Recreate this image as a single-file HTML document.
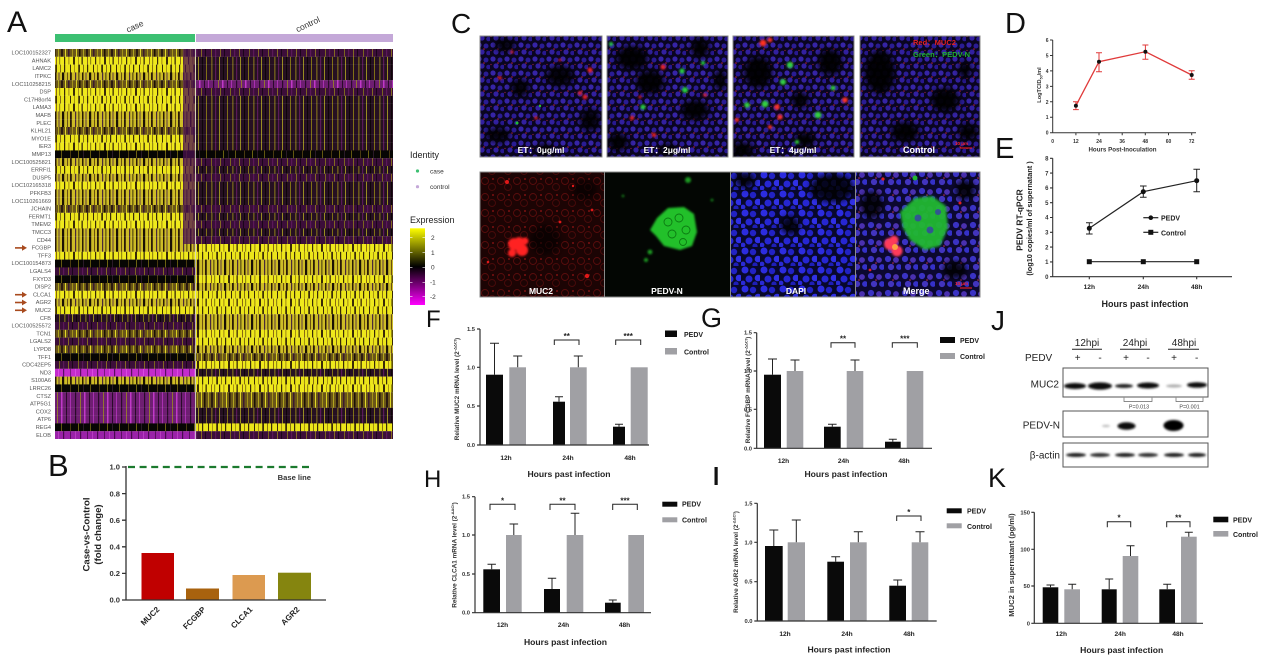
<!DOCTYPE html>
<html><head><meta charset="utf-8">
<style>
html,body{margin:0;padding:0;background:#fff;}
svg{display:block;}
text{font-family:"Liberation Sans",Arial,sans-serif;}
.g{font-size:5.6px;fill:#555;}
.lt{fill:#111;}
.tk{font-size:5.8px;font-weight:bold;fill:#333;}
.ct{font-size:6.6px;font-weight:bold;fill:#222;}
.ax{font-size:8.6px;font-weight:bold;fill:#222;}
.lg{font-size:7px;font-weight:bold;fill:#222;}
.yl{font-size:6.4px;font-weight:bold;fill:#333;}
.wl{font-size:8.5px;font-weight:bold;fill:#fff;}
.bl{font-size:10px;fill:#222;}
.st{font-size:8px;font-weight:bold;fill:#222;}
</style></head><body>
<svg width="1269" height="658" viewBox="0 0 1269 658" xmlns="http://www.w3.org/2000/svg">
<defs>
<pattern id="pY1" width="31" height="8" patternUnits="userSpaceOnUse"><rect width="31" height="8" fill="#efe91c"/><g fill="#3a2a08"><rect x="2" width="1.2" height="8"/><rect x="11" width="2" height="8"/><rect x="19.5" width="1.3" height="8"/><rect x="28.5" width="0.6" height="8"/></g><g fill="#8a6a12"><rect x="6.5" width="0.8" height="8"/><rect x="16" width="0.7" height="8"/><rect x="25" width="1" height="8"/></g></pattern>
<pattern id="pY2" width="23" height="8" patternUnits="userSpaceOnUse"><rect width="23" height="8" fill="#ebe51a"/><rect x="1" width="1" height="8" fill="#3a2a08"/><rect x="5" width="0.7" height="8" fill="#8a7010"/><rect x="9.3" width="1.6" height="8" fill="#2a1a06"/><rect x="14" width="0.8" height="8" fill="#6a5010"/><rect x="18" width="1.2" height="8" fill="#3a2a08"/></pattern>
<pattern id="pYm" width="27" height="8" patternUnits="userSpaceOnUse"><rect width="27" height="8" fill="#cdbc26"/><rect x="1" width="1.5" height="8" fill="#2a1a06"/><rect x="4.5" width="1" height="8" fill="#5a3a40"/><rect x="8" width="2.2" height="8" fill="#1a1004"/><rect x="13" width="1" height="8" fill="#6a5010"/><rect x="16" width="1.8" height="8" fill="#2a1a06"/><rect x="21" width="1.2" height="8" fill="#4a2a3a"/><rect x="24.5" width="0.8" height="8" fill="#1a1004"/></pattern>
<pattern id="pM" width="25" height="8" patternUnits="userSpaceOnUse"><rect width="25" height="8" fill="#6a5618"/><rect x="1" width="1" height="8" fill="#d8d020"/><rect x="4" width="1.5" height="8" fill="#1a1006"/><rect x="8" width="0.8" height="8" fill="#c0b820"/><rect x="11" width="2" height="8" fill="#2a1a10"/><rect x="15" width="1" height="8" fill="#e0d828"/><rect x="18" width="1.5" height="8" fill="#3a1a30"/><rect x="22" width="0.8" height="8" fill="#b0a018"/></pattern>
<pattern id="pD" width="21" height="8" patternUnits="userSpaceOnUse"><rect width="21" height="8" fill="#261022"/><rect x="1.5" width="0.8" height="8" fill="#a89a18"/><rect x="5" width="1.2" height="8" fill="#5a1a58"/><rect x="9" width="0.7" height="8" fill="#c8c020"/><rect x="13" width="1" height="8" fill="#0e0608"/><rect x="17" width="0.9" height="8" fill="#8a7a14"/></pattern>
<pattern id="pP" width="19" height="8" patternUnits="userSpaceOnUse"><rect width="19" height="8" fill="#3c0e3a"/><rect x="2" width="0.8" height="8" fill="#8a7a18"/><rect x="6" width="1.2" height="8" fill="#5a1858"/><rect x="11" width="0.7" height="8" fill="#a09018"/><rect x="15" width="1" height="8" fill="#1a0618"/></pattern>
<pattern id="pPm" width="23" height="8" patternUnits="userSpaceOnUse"><rect width="23" height="8" fill="#6e1e72"/><rect x="1" width="1" height="8" fill="#a830b0"/><rect x="6" width="1.2" height="8" fill="#2a0a2a"/><rect x="11" width="0.8" height="8" fill="#9a8a20"/><rect x="15" width="1.5" height="8" fill="#c038c8"/><rect x="20" width="1" height="8" fill="#2a0a2a"/></pattern>
<pattern id="pMg" width="17" height="8" patternUnits="userSpaceOnUse"><rect width="17" height="8" fill="#c42ccc"/><rect x="2" width="1" height="8" fill="#7a1a80"/><rect x="7" width="0.8" height="8" fill="#e050e8"/><rect x="12" width="1.2" height="8" fill="#5a1060"/></pattern>
<pattern id="pMg2" width="17" height="8" patternUnits="userSpaceOnUse"><rect width="17" height="8" fill="#9a22a8"/><rect x="2" width="1" height="8" fill="#5a1060"/><rect x="7" width="0.8" height="8" fill="#c040c8"/><rect x="12" width="1.2" height="8" fill="#4a0a50"/></pattern>
<pattern id="pK" width="29" height="8" patternUnits="userSpaceOnUse"><rect width="29" height="8" fill="#070604"/><rect x="3" width="0.7" height="8" fill="#8a7a14"/><rect x="12" width="1" height="8" fill="#4a3a10"/><rect x="20" width="0.6" height="8" fill="#b0a018"/><rect x="25" width="1" height="8" fill="#2a1a28"/></pattern>

<pattern id="cP" width="14" height="14" patternUnits="userSpaceOnUse"><rect width="14" height="14" fill="#0a0520"/><circle cx="3" cy="3" r="2.6" fill="#3624a6"/><circle cx="10" cy="4" r="2.5" fill="#2a1c94"/><circle cx="6" cy="10" r="2.6" fill="#3220a0"/><circle cx="12.5" cy="11" r="2.3" fill="#281890"/><circle cx="8" cy="7" r="0.8" fill="#b02040"/><circle cx="1" cy="8.5" r="0.6" fill="#a02040"/></pattern>
<pattern id="cB" width="19" height="19" patternUnits="userSpaceOnUse"><rect width="19" height="19" fill="#08082c"/><circle cx="4" cy="4" r="3.5" fill="#2c2ce0"/><circle cx="12" cy="5" r="3.2" fill="#2222c4"/><circle cx="17" cy="12" r="3.3" fill="#3030e6"/><circle cx="8" cy="13" r="3.5" fill="#2626d2"/><circle cx="14" cy="18" r="2.6" fill="#1e1eb8"/><circle cx="2" cy="17" r="2.4" fill="#2a2ad6"/></pattern>
<pattern id="cR" width="16" height="16" patternUnits="userSpaceOnUse"><rect width="16" height="16" fill="#1c0404"/><circle cx="5" cy="5" r="3.5" fill="none" stroke="#5a0c0c" stroke-width="0.9"/><circle cx="12" cy="11" r="3.5" fill="none" stroke="#4a0a0a" stroke-width="0.9"/><circle cx="13" cy="3" r="1" fill="#7a1010"/></pattern>
<pattern id="cM" width="17" height="17" patternUnits="userSpaceOnUse"><rect width="17" height="17" fill="#0c0830"/><circle cx="4" cy="4" r="3.1" fill="#3a32c4"/><circle cx="12" cy="5" r="2.9" fill="#4a30b0"/><circle cx="15" cy="12" r="2.9" fill="#3430c8"/><circle cx="7" cy="12" r="3.1" fill="#4234be"/><circle cx="9" cy="8" r="0.8" fill="#c03050"/></pattern>
<filter id="bl" x="-50%" y="-50%" width="200%" height="200%"><feGaussianBlur stdDeviation="3"/></filter>
<filter id="bs" x="-50%" y="-50%" width="200%" height="200%"><feGaussianBlur stdDeviation="1"/></filter>
<filter id="bb" x="-50%" y="-50%" width="200%" height="200%"><feGaussianBlur stdDeviation="1.3"/></filter>
<linearGradient id="exg" x1="0" y1="0" x2="0" y2="1"><stop offset="0" stop-color="#ffff00"/><stop offset="0.5" stop-color="#000000"/><stop offset="1" stop-color="#ff00ff"/></linearGradient>
<clipPath id="k1"><rect x="480" y="36" width="122" height="121"/></clipPath>
<clipPath id="k2"><rect x="607" y="36" width="121" height="121"/></clipPath>
<clipPath id="k3"><rect x="733" y="36" width="121" height="121"/></clipPath>
<clipPath id="k4"><rect x="860" y="36" width="120" height="121"/></clipPath>
<clipPath id="q1"><rect x="480" y="172" width="124" height="125"/></clipPath>
<clipPath id="q2"><rect x="605" y="172" width="125" height="125"/></clipPath>
<clipPath id="q3"><rect x="731" y="172" width="124" height="125"/></clipPath>
<clipPath id="q4"><rect x="856" y="172" width="124" height="125"/></clipPath>
</defs>
<rect width="1269" height="658" fill="#fff"/>

<!-- ===== Panel A ===== -->
<text x="7" y="32" class="lt" font-size="30">A</text>
<rect x="55" y="34" width="140" height="8" fill="#3cc072"/>
<rect x="196" y="34" width="197" height="8" fill="#c4a8d8"/>
<text transform="translate(136,29) rotate(-25)" text-anchor="middle" font-size="8.5" fill="#333">case</text>
<text transform="translate(309,27) rotate(-25)" text-anchor="middle" font-size="8.5" fill="#333">control</text>

<g>
<rect x="55" y="49" width="140.5" height="7.9" fill="url(#pM)"/><rect x="196" y="49" width="197" height="7.9" fill="url(#pP)"/>
<rect x="55" y="56.8" width="140.5" height="7.9" fill="url(#pY1)"/><rect x="196" y="56.8" width="197" height="7.9" fill="url(#pD)"/>
<rect x="55" y="64.6" width="140.5" height="7.9" fill="url(#pY2)"/><rect x="196" y="64.6" width="197" height="7.9" fill="url(#pD)"/>
<rect x="55" y="72.4" width="140.5" height="7.9" fill="url(#pYm)"/><rect x="196" y="72.4" width="197" height="7.9" fill="url(#pD)"/>
<rect x="55" y="80.2" width="140.5" height="7.9" fill="url(#pM)"/><rect x="196" y="80.2" width="197" height="7.9" fill="url(#pPm)"/>
<rect x="55" y="88" width="140.5" height="7.9" fill="url(#pY1)"/><rect x="196" y="88" width="197" height="7.9" fill="url(#pP)"/>
<rect x="55" y="95.8" width="140.5" height="7.9" fill="url(#pY2)"/><rect x="196" y="95.8" width="197" height="7.9" fill="url(#pD)"/>
<rect x="55" y="103.6" width="140.5" height="7.9" fill="url(#pY1)"/><rect x="196" y="103.6" width="197" height="7.9" fill="url(#pD)"/>
<rect x="55" y="111.4" width="140.5" height="7.9" fill="url(#pYm)"/><rect x="196" y="111.4" width="197" height="7.9" fill="url(#pD)"/>
<rect x="55" y="119.2" width="140.5" height="7.9" fill="url(#pYm)"/><rect x="196" y="119.2" width="197" height="7.9" fill="url(#pD)"/>
<rect x="55" y="127" width="140.5" height="7.9" fill="url(#pM)"/><rect x="196" y="127" width="197" height="7.9" fill="url(#pD)"/>
<rect x="55" y="134.8" width="140.5" height="7.9" fill="url(#pY2)"/><rect x="196" y="134.8" width="197" height="7.9" fill="url(#pD)"/>
<rect x="55" y="142.6" width="140.5" height="7.9" fill="url(#pY1)"/><rect x="196" y="142.6" width="197" height="7.9" fill="url(#pD)"/>
<rect x="55" y="150.4" width="140.5" height="7.9" fill="url(#pK)"/><rect x="196" y="150.4" width="197" height="7.9" fill="url(#pK)"/>
<rect x="55" y="158.2" width="140.5" height="7.9" fill="url(#pYm)"/><rect x="196" y="158.2" width="197" height="7.9" fill="url(#pP)"/>
<rect x="55" y="166" width="140.5" height="7.9" fill="url(#pY2)"/><rect x="196" y="166" width="197" height="7.9" fill="url(#pD)"/>
<rect x="55" y="173.8" width="140.5" height="7.9" fill="url(#pYm)"/><rect x="196" y="173.8" width="197" height="7.9" fill="url(#pP)"/>
<rect x="55" y="181.6" width="140.5" height="7.9" fill="url(#pY1)"/><rect x="196" y="181.6" width="197" height="7.9" fill="url(#pD)"/>
<rect x="55" y="189.4" width="140.5" height="7.9" fill="url(#pYm)"/><rect x="196" y="189.4" width="197" height="7.9" fill="url(#pD)"/>
<rect x="55" y="197.2" width="140.5" height="7.9" fill="url(#pYm)"/><rect x="196" y="197.2" width="197" height="7.9" fill="url(#pD)"/>
<rect x="55" y="205" width="140.5" height="7.9" fill="url(#pM)"/><rect x="196" y="205" width="197" height="7.9" fill="url(#pP)"/>
<rect x="55" y="212.8" width="140.5" height="7.9" fill="url(#pY2)"/><rect x="196" y="212.8" width="197" height="7.9" fill="url(#pD)"/>
<rect x="55" y="220.6" width="140.5" height="7.9" fill="url(#pY1)"/><rect x="196" y="220.6" width="197" height="7.9" fill="url(#pP)"/>
<rect x="55" y="228.4" width="140.5" height="7.9" fill="url(#pYm)"/><rect x="196" y="228.4" width="197" height="7.9" fill="url(#pD)"/>
<rect x="55" y="236.2" width="140.5" height="7.9" fill="url(#pYm)"/><rect x="196" y="236.2" width="197" height="7.9" fill="url(#pP)"/>
<rect x="55" y="244" width="140.5" height="7.9" fill="url(#pYm)"/><rect x="196" y="244" width="197" height="7.9" fill="url(#pY1)"/>
<rect x="55" y="251.8" width="140.5" height="7.9" fill="url(#pY1)"/><rect x="196" y="251.8" width="197" height="7.9" fill="url(#pY2)"/>
<rect x="55" y="259.6" width="140.5" height="7.9" fill="url(#pK)"/><rect x="196" y="259.6" width="197" height="7.9" fill="url(#pYm)"/>
<rect x="55" y="267.4" width="140.5" height="7.9" fill="url(#pP)"/><rect x="196" y="267.4" width="197" height="7.9" fill="url(#pYm)"/>
<rect x="55" y="275.2" width="140.5" height="7.9" fill="url(#pK)"/><rect x="196" y="275.2" width="197" height="7.9" fill="url(#pY1)"/>
<rect x="55" y="283" width="140.5" height="7.9" fill="url(#pM)"/><rect x="196" y="283" width="197" height="7.9" fill="url(#pYm)"/>
<rect x="55" y="290.8" width="140.5" height="7.9" fill="url(#pY1)"/><rect x="196" y="290.8" width="197" height="7.9" fill="url(#pY2)"/>
<rect x="55" y="298.6" width="140.5" height="7.9" fill="url(#pYm)"/><rect x="196" y="298.6" width="197" height="7.9" fill="url(#pY1)"/>
<rect x="55" y="306.4" width="140.5" height="7.9" fill="url(#pY2)"/><rect x="196" y="306.4" width="197" height="7.9" fill="url(#pY2)"/>
<rect x="55" y="314.2" width="140.5" height="7.9" fill="url(#pD)"/><rect x="196" y="314.2" width="197" height="7.9" fill="url(#pYm)"/>
<rect x="55" y="322" width="140.5" height="7.9" fill="url(#pP)"/><rect x="196" y="322" width="197" height="7.9" fill="url(#pYm)"/>
<rect x="55" y="329.8" width="140.5" height="7.9" fill="url(#pM)"/><rect x="196" y="329.8" width="197" height="7.9" fill="url(#pY1)"/>
<rect x="55" y="337.6" width="140.5" height="7.9" fill="url(#pP)"/><rect x="196" y="337.6" width="197" height="7.9" fill="url(#pY2)"/>
<rect x="55" y="345.4" width="140.5" height="7.9" fill="url(#pM)"/><rect x="196" y="345.4" width="197" height="7.9" fill="url(#pYm)"/>
<rect x="55" y="353.2" width="140.5" height="7.9" fill="url(#pK)"/><rect x="196" y="353.2" width="197" height="7.9" fill="url(#pM)"/>
<rect x="55" y="361" width="140.5" height="7.9" fill="url(#pP)"/><rect x="196" y="361" width="197" height="7.9" fill="url(#pY1)"/>
<rect x="55" y="368.8" width="140.5" height="7.9" fill="url(#pMg)"/><rect x="196" y="368.8" width="197" height="7.9" fill="url(#pD)"/>
<rect x="55" y="376.6" width="140.5" height="7.9" fill="url(#pYm)"/><rect x="196" y="376.6" width="197" height="7.9" fill="url(#pY2)"/>
<rect x="55" y="384.4" width="140.5" height="7.9" fill="url(#pK)"/><rect x="196" y="384.4" width="197" height="7.9" fill="url(#pY1)"/>
<rect x="55" y="392.2" width="140.5" height="7.9" fill="url(#pPm)"/><rect x="196" y="392.2" width="197" height="7.9" fill="url(#pM)"/>
<rect x="55" y="400" width="140.5" height="7.9" fill="url(#pPm)"/><rect x="196" y="400" width="197" height="7.9" fill="url(#pM)"/>
<rect x="55" y="407.8" width="140.5" height="7.9" fill="url(#pPm)"/><rect x="196" y="407.8" width="197" height="7.9" fill="url(#pD)"/>
<rect x="55" y="415.6" width="140.5" height="7.9" fill="url(#pPm)"/><rect x="196" y="415.6" width="197" height="7.9" fill="url(#pD)"/>
<rect x="55" y="423.4" width="140.5" height="7.9" fill="url(#pK)"/><rect x="196" y="423.4" width="197" height="7.9" fill="url(#pY2)"/>
<rect x="55" y="431.2" width="140.5" height="7.8" fill="url(#pMg2)"/><rect x="196" y="431.2" width="197" height="7.8" fill="url(#pP)"/>
<rect x="183" y="49" width="12" height="195" fill="#4a1050" opacity="0.75"/>
<line x1="195.6" y1="49" x2="195.6" y2="439" stroke="#d8d8d8" stroke-width="0.8"/>
</g>

<g class="g" text-anchor="end">
<text x="51" y="54.6">LOC100152327</text><text x="51" y="62.4">AHNAK</text><text x="51" y="70.2">LAMC2</text><text x="51" y="78">ITPKC</text><text x="51" y="85.8">LOC110258215</text><text x="51" y="93.6">DSP</text><text x="51" y="101.4">C17H8orf4</text><text x="51" y="109.2">LAMA3</text><text x="51" y="117">MAFB</text><text x="51" y="124.8">PLEC</text><text x="51" y="132.6">KLHL21</text><text x="51" y="140.4">MYO1E</text><text x="51" y="148.2">IER3</text><text x="51" y="156">MMP13</text><text x="51" y="163.8">LOC100525821</text><text x="51" y="171.6">ERRFI1</text><text x="51" y="179.4">DUSP5</text><text x="51" y="187.2">LOC102165318</text><text x="51" y="195">PFKFB3</text><text x="51" y="202.8">LOC110261669</text><text x="51" y="210.6">JCHAIN</text><text x="51" y="218.4">FERMT1</text><text x="51" y="226.2">TMEM2</text><text x="51" y="234">TMCC3</text><text x="51" y="241.8">CD44</text><text x="51" y="249.6">FCGBP</text><text x="51" y="257.4">TFF3</text><text x="51" y="265.2">LOC100154873</text><text x="51" y="273">LGALS4</text><text x="51" y="280.8">FXYD3</text><text x="51" y="288.6">DISP2</text><text x="51" y="296.4">CLCA1</text><text x="51" y="304.2">AGR2</text><text x="51" y="312">MUC2</text><text x="51" y="319.8">CFB</text><text x="51" y="327.6">LOC100525572</text><text x="51" y="335.4">TCN1</text><text x="51" y="343.2">LGALS2</text><text x="51" y="351">LYPD8</text><text x="51" y="358.8">TFF1</text><text x="51" y="366.6">CDC42EP5</text><text x="51" y="374.4">ND3</text><text x="51" y="382.2">S100A6</text><text x="51" y="390">LRRC26</text><text x="51" y="397.8">CTSZ</text><text x="51" y="405.6">ATP5G1</text><text x="51" y="413.4">COX2</text><text x="51" y="421.2">ATP6</text><text x="51" y="429">REG4</text><text x="51" y="436.8">ELOB</text>
</g>
<g fill="#a84a1e" stroke="#a84a1e">
<line x1="15" y1="247.9" x2="23" y2="247.9" stroke-width="1.6"/><path d="M22,245 L27,247.9 L22,250.8 Z" stroke="none"/>
<line x1="15" y1="294.7" x2="23" y2="294.7" stroke-width="1.6"/><path d="M22,291.8 L27,294.7 L22,297.6 Z" stroke="none"/>
<line x1="15" y1="302.5" x2="23" y2="302.5" stroke-width="1.6"/><path d="M22,299.6 L27,302.5 L22,305.4 Z" stroke="none"/>
<line x1="15" y1="310.3" x2="23" y2="310.3" stroke-width="1.6"/><path d="M22,307.4 L27,310.3 L22,313.2 Z" stroke="none"/>
</g>

<!-- legends -->
<text x="410" y="158" font-size="9" fill="#222">Identity</text>
<circle cx="417.5" cy="171" r="1.6" fill="#3cc072"/><text x="430" y="173.5" font-size="6.5" fill="#333">case</text>
<circle cx="417.5" cy="186.7" r="1.6" fill="#c4a8d8"/><text x="430" y="189" font-size="6.5" fill="#333">control</text>
<text x="410" y="223" font-size="9" fill="#222">Expression</text>
<rect x="410" y="228.3" width="15" height="76.7" fill="url(#exg)"/>
<g stroke="#fff" stroke-width="0.6"><line x1="410" y1="237.7" x2="412.5" y2="237.7"/><line x1="410" y1="252.7" x2="412.5" y2="252.7"/><line x1="410" y1="267.3" x2="412.5" y2="267.3"/><line x1="410" y1="282.3" x2="412.5" y2="282.3"/><line x1="410" y1="296.7" x2="412.5" y2="296.7"/><line x1="422.5" y1="237.7" x2="425" y2="237.7"/><line x1="422.5" y1="252.7" x2="425" y2="252.7"/><line x1="422.5" y1="267.3" x2="425" y2="267.3"/><line x1="422.5" y1="282.3" x2="425" y2="282.3"/><line x1="422.5" y1="296.7" x2="425" y2="296.7"/></g>
<g font-size="6.5" fill="#333"><text x="431" y="240">2</text><text x="431" y="255">1</text><text x="431" y="269.6">0</text><text x="430" y="284.6">-1</text><text x="430" y="299">-2</text></g>

<!-- ===== Panel B ===== -->
<text x="48" y="476" class="lt" font-size="31">B</text>
<line x1="128" y1="467" x2="310" y2="467" stroke="#1b7a2e" stroke-width="2.2" stroke-dasharray="7,4.6"/>
<text x="311" y="480" text-anchor="end" font-size="7.6" font-weight="bold" fill="#333">Base line</text>
<rect x="141.5" y="553" width="32.5" height="47" fill="#c00000"/>
<rect x="186" y="588.5" width="33" height="11.5" fill="#a8620e"/>
<rect x="232.5" y="575" width="32.5" height="25" fill="#dc9a50"/>
<rect x="278" y="572.7" width="33" height="27.3" fill="#85850f"/>
<g stroke="#333" stroke-width="1.3" fill="none"><path d="M126,466 V600 M124,600 H326 M122,467H126 M122,493.6H126 M122,520.2H126 M122,546.8H126 M122,573.4H126 M122,600H126"/></g>
<g font-size="7.6" font-weight="bold" fill="#333" text-anchor="end"><text x="120" y="469.7">1.0</text><text x="120" y="496.3">0.8</text><text x="120" y="522.9">0.6</text><text x="120" y="549.5">0.4</text><text x="120" y="576.1">0.2</text><text x="120" y="602.7">0.0</text></g>
<text transform="translate(89.5,534.5) rotate(-90)" text-anchor="middle" font-size="9.6" font-weight="bold" fill="#222">Case-vs-Control</text>
<text transform="translate(101,534.5) rotate(-90)" text-anchor="middle" font-size="9.6" font-weight="bold" fill="#222">(fold change)</text>
<g font-size="8" font-weight="bold" fill="#222" text-anchor="end">
<text transform="translate(160,610) rotate(-45)">MUC2</text>
<text transform="translate(206,610) rotate(-45)">FCGBP</text>
<text transform="translate(253,610) rotate(-45)">CLCA1</text>
<text transform="translate(300,610) rotate(-45)">AGR2</text>
</g>

<!-- ===== Panel C ===== -->
<text x="451" y="33" class="lt" font-size="28">C</text>
<g clip-path="url(#k1)">
<rect x="480" y="36" width="122" height="121" fill="url(#cP)"/>
<g filter="url(#bl)" fill="#000" opacity="0.9"><ellipse cx="560" cy="76" rx="14" ry="10"/><ellipse cx="520" cy="88" rx="9" ry="9"/><ellipse cx="498" cy="135" rx="12" ry="7"/><ellipse cx="590" cy="120" rx="10" ry="11"/><ellipse cx="545" cy="150" rx="10" ry="6"/><ellipse cx="505" cy="45" rx="10" ry="6"/></g>
<g fill="#e82020" filter="url(#bs)"><circle cx="590" cy="70" r="2.6"/><circle cx="585" cy="97" r="2.4"/><circle cx="580" cy="93" r="2"/><circle cx="500" cy="78" r="1.8"/><circle cx="536" cy="118" r="1.6"/><circle cx="560" cy="60" r="1.4"/><circle cx="512" cy="52" r="1.5"/></g>
<g fill="#20c030"><circle cx="517" cy="123" r="1.5"/><circle cx="540" cy="106" r="1.2"/></g>
</g>
<g clip-path="url(#k2)">
<rect x="607" y="36" width="121" height="121" fill="url(#cP)"/>
<g filter="url(#bl)" fill="#000" opacity="0.95"><ellipse cx="632" cy="58" rx="16" ry="12"/><ellipse cx="650" cy="82" rx="14" ry="12"/><ellipse cx="695" cy="110" rx="14" ry="10"/><ellipse cx="618" cy="142" rx="10" ry="9"/><ellipse cx="700" cy="48" rx="9" ry="10"/><ellipse cx="668" cy="150" rx="9" ry="6"/><ellipse cx="720" cy="80" rx="6" ry="10"/></g>
<g fill="#e82020" filter="url(#bs)"><circle cx="663" cy="67" r="2.6"/><circle cx="632" cy="118" r="2.2"/><circle cx="654" cy="135" r="2.2"/><circle cx="640" cy="97" r="1.5"/><circle cx="705" cy="95" r="1.8"/></g>
<g fill="#28d040" filter="url(#bs)"><circle cx="682" cy="71" r="2.6"/><circle cx="703" cy="63" r="2"/><circle cx="685" cy="90" r="3"/><circle cx="643" cy="107" r="2.6"/><circle cx="611" cy="44" r="2"/></g>
</g>
<g clip-path="url(#k3)">
<rect x="733" y="36" width="121" height="121" fill="url(#cP)"/>
<g filter="url(#bl)" fill="#000" opacity="0.95"><ellipse cx="758" cy="72" rx="14" ry="16"/><ellipse cx="830" cy="62" rx="12" ry="13"/><ellipse cx="742" cy="150" rx="12" ry="8"/><ellipse cx="805" cy="140" rx="10" ry="8"/><ellipse cx="800" cy="100" rx="8" ry="8"/></g>
<g fill="#30d040" filter="url(#bs)"><circle cx="790" cy="65" r="3.2"/><circle cx="783" cy="82" r="3"/><circle cx="747" cy="105" r="2.8"/><circle cx="765" cy="104" r="3.4"/><circle cx="818" cy="115" r="3.4"/><circle cx="833" cy="88" r="2.4"/><circle cx="797" cy="142" r="2"/></g>
<g fill="#ff3020" filter="url(#bs)"><circle cx="763" cy="43" r="3.4"/><circle cx="770" cy="40" r="2.4"/><circle cx="777" cy="107" r="2.8"/><circle cx="780" cy="117" r="2.6"/><circle cx="845" cy="100" r="2.8"/><circle cx="770" cy="127" r="2"/><circle cx="737" cy="120" r="2"/></g>
</g>
<g clip-path="url(#k4)">
<rect x="860" y="36" width="120" height="121" fill="url(#cP)"/>
<g filter="url(#bl)" fill="#000" opacity="0.95"><ellipse cx="880" cy="72" rx="15" ry="22"/><ellipse cx="945" cy="100" rx="14" ry="12"/><ellipse cx="905" cy="132" rx="14" ry="10"/><ellipse cx="968" cy="132" rx="10" ry="8"/><ellipse cx="965" cy="70" rx="6" ry="8"/></g>
</g>
<g fill="none" stroke="#8a8a8a" stroke-width="1"><rect x="480" y="36" width="122" height="121"/><rect x="607" y="36" width="121" height="121"/><rect x="733" y="36" width="121" height="121"/><rect x="860" y="36" width="120" height="121"/></g>
<g class="wl" text-anchor="middle"><text x="541" y="153">ET：0μg/ml</text><text x="667" y="153">ET：2μg/ml</text><text x="793" y="153">ET：4μg/ml</text></g>
<text x="903" y="153" font-size="9" font-weight="bold" fill="#fff">Control</text>
<text x="913" y="45" font-size="7.5" font-weight="bold" fill="#e02020">Red：MUC2</text>
<text x="913" y="57" font-size="7.5" font-weight="bold" fill="#20b030">Green：PEDV-N</text>
<text x="955" y="145" font-size="4.5" font-weight="bold" fill="#ff2020">10 μm</text>
<line x1="960" y1="148" x2="972" y2="148" stroke="#ff2020" stroke-width="1"/>

<!-- bottom row -->
<g clip-path="url(#q1)">
<rect x="480" y="172" width="124" height="125" fill="url(#cR)"/>
<g filter="url(#bl)" fill="#000" opacity="0.6"><ellipse cx="545" cy="240" rx="15" ry="15"/><ellipse cx="585" cy="190" rx="12" ry="10"/></g>
<g fill="#ff2020" filter="url(#bs)"><circle cx="514" cy="244" r="6"/><circle cx="522" cy="250" r="6"/><circle cx="519" cy="242" r="5"/><circle cx="512" cy="253" r="4"/><circle cx="525" cy="241" r="3.5"/></g>
<g fill="#e01818"><circle cx="507" cy="182" r="2"/><circle cx="587" cy="276" r="2.2"/><circle cx="560" cy="222" r="1.4"/><circle cx="592" cy="210" r="1.4"/><circle cx="488" cy="262" r="1.3"/><circle cx="573" cy="186" r="1.2"/></g>
</g>
<g clip-path="url(#q2)">
<rect x="605" y="172" width="125" height="125" fill="#030603"/>
<path d="M657,218 L668,208 L684,207 L694,214 L697,232 L692,246 L680,250 L664,246 L656,236 L650,230 Z" fill="#22c02a" filter="url(#bs)"/>
<g fill="none" stroke="#0c7a12" stroke-width="0.9"><circle cx="668" cy="222" r="4"/><circle cx="679" cy="218" r="4"/><circle cx="686" cy="230" r="4"/><circle cx="672" cy="234" r="4"/><circle cx="683" cy="242" r="3.5"/></g>
<g fill="#1a9a20" filter="url(#bs)"><circle cx="688" cy="180" r="3"/><circle cx="650" cy="252" r="2.4"/><circle cx="646" cy="260" r="2"/><circle cx="623" cy="196" r="1.2"/><circle cx="712" cy="200" r="1.3"/></g>
</g>
<g clip-path="url(#q3)">
<rect x="731" y="172" width="124" height="125" fill="url(#cB)"/>
<g filter="url(#bl)" fill="#000" opacity="0.85"><ellipse cx="832" cy="188" rx="22" ry="14"/><ellipse cx="790" cy="225" rx="10" ry="9"/><ellipse cx="745" cy="180" rx="10" ry="8"/></g>
</g>
<g clip-path="url(#q4)">
<rect x="856" y="172" width="124" height="125" fill="url(#cM)"/>
<g filter="url(#bl)" fill="#000" opacity="0.85"><ellipse cx="872" cy="205" rx="11" ry="14"/><ellipse cx="955" cy="270" rx="12" ry="9"/><ellipse cx="965" cy="190" rx="10" ry="10"/></g>
<path d="M900,212 L915,198 L932,196 L946,206 L948,228 L940,246 L925,250 L910,240 L903,228 Z" fill="#22b830" filter="url(#bb)" opacity="0.95"/>
<g fill="#3a30b8" opacity="0.7"><circle cx="918" cy="218" r="3.5"/><circle cx="930" cy="230" r="3.5"/><circle cx="938" cy="212" r="3"/></g>
<circle cx="915" cy="178" r="2.5" fill="#22b830"/>
<g fill="#ff3a5a" filter="url(#bs)"><circle cx="890" cy="244" r="6"/><circle cx="897" cy="251" r="5.5"/><circle cx="894" cy="240" r="4.5"/></g>
<circle cx="895" cy="247" r="3" fill="#ffa040"/>
<g fill="#e02020"><circle cx="883" cy="179" r="1.6"/><circle cx="960" cy="203" r="1.5"/><circle cx="870" cy="270" r="1.4"/></g>
</g>
<g fill="none" stroke="#8a8a8a" stroke-width="1"><rect x="480" y="172" width="500" height="125"/><line x1="604.5" y1="172" x2="604.5" y2="297"/><line x1="730.5" y1="172" x2="730.5" y2="297"/><line x1="855.5" y1="172" x2="855.5" y2="297"/></g>
<g class="wl" text-anchor="middle"><text x="541" y="294">MUC2</text><text x="667" y="294">PEDV-N</text><text x="796" y="294">DAPI</text></g>
<text x="903" y="294" font-size="9" font-weight="bold" fill="#fff">Merge</text>
<text x="955" y="285" font-size="4.5" font-weight="bold" fill="#ff2020">10 μm</text>
<line x1="960" y1="288" x2="972" y2="288" stroke="#ff2020" stroke-width="1"/>

<!-- ===== Panel D ===== -->
<text x="1005" y="33" class="lt" font-size="29">D</text>
<g stroke="#333" stroke-width="1" fill="none"><path d="M1052.7,40 V132.7 M1052.7,132.7 H1196 M1050,40H1052.7 M1050,55.45H1052.7 M1050,70.9H1052.7 M1050,86.35H1052.7 M1050,101.8H1052.7 M1050,117.25H1052.7 M1050,132.7H1052.7 M1075.9,132.7v2.5 M1099,132.7v2.5 M1122.2,132.7v2.5 M1145.3,132.7v2.5 M1168.5,132.7v2.5 M1191.7,132.7v2.5"/></g>
<g font-size="5" font-weight="bold" fill="#333" text-anchor="end"><text x="1048.5" y="42">6</text><text x="1048.5" y="57.4">5</text><text x="1048.5" y="72.9">4</text><text x="1048.5" y="88.3">3</text><text x="1048.5" y="103.8">2</text><text x="1048.5" y="119.2">1</text><text x="1048.5" y="134.7">0</text></g>
<g font-size="5" font-weight="bold" fill="#333" text-anchor="middle"><text x="1052.7" y="143">0</text><text x="1075.9" y="143">12</text><text x="1099" y="143">24</text><text x="1122.2" y="143">36</text><text x="1145.3" y="143">48</text><text x="1168.5" y="143">60</text><text x="1191.7" y="143">72</text></g>
<text x="1122.5" y="151.5" text-anchor="middle" font-size="6.2" font-weight="bold" fill="#333">Hours Post-Inoculation</text>
<text transform="translate(1041,85) rotate(-90)" text-anchor="middle" font-size="5.6" font-weight="bold" fill="#333">LogTCID<tspan font-size="3.6" dy="1.5">50</tspan><tspan dy="-1.5">/ml</tspan></text>
<polyline points="1075.9,105.7 1099,61.7 1145.4,51.7 1191.7,75" fill="none" stroke="#e03a3a" stroke-width="1.3"/>
<g stroke="#e03a3a" stroke-width="1" fill="none"><path d="M1075.9,101.8V109.6 M1073,101.8h5.8 M1073,109.6h5.8 M1099,52.7V71.7 M1096,52.7h6 M1096,71.7h6 M1145.4,45V59.3 M1142.4,45h6 M1142.4,59.3h6 M1191.7,70.7V79.3 M1188.7,70.7h6 M1188.7,79.3h6"/></g>
<g fill="#111"><circle cx="1075.9" cy="105.7" r="2"/><circle cx="1099" cy="61.7" r="2"/><circle cx="1145.4" cy="51.7" r="2"/><circle cx="1191.7" cy="75" r="2"/></g>

<!-- ===== Panel E ===== -->
<text x="995" y="158" class="lt" font-size="29">E</text>
<g stroke="#333" stroke-width="1.1" fill="none"><path d="M1052.7,158.3 V276.7 M1052.7,276.7 H1232 M1050,158.3h2.7 M1050,173.1h2.7 M1050,187.9h2.7 M1050,202.7h2.7 M1050,217.5h2.7 M1050,232.3h2.7 M1050,247.1h2.7 M1050,261.9h2.7 M1050,276.7h2.7 M1089.3,276.7v2.5 M1143.3,276.7v2.5 M1196.7,276.7v2.5"/></g>
<g font-size="6" font-weight="bold" fill="#333" text-anchor="end"><text x="1048.5" y="160.5">8</text><text x="1048.5" y="175.3">7</text><text x="1048.5" y="190.1">6</text><text x="1048.5" y="204.9">5</text><text x="1048.5" y="219.7">4</text><text x="1048.5" y="234.5">3</text><text x="1048.5" y="249.3">2</text><text x="1048.5" y="264.1">1</text><text x="1048.5" y="278.9">0</text></g>
<g class="ct" text-anchor="middle"><text x="1089.3" y="289">12h</text><text x="1143.3" y="289">24h</text><text x="1196.7" y="289">48h</text></g>
<text x="1145" y="307" text-anchor="middle" font-size="9" font-weight="bold" fill="#222">Hours past infection</text>
<text transform="translate(1022.5,220) rotate(-90)" text-anchor="middle" font-size="8.4" font-weight="bold" fill="#222">PEDV RT-qPCR</text>
<text transform="translate(1032,218.5) rotate(-90)" text-anchor="middle" font-size="7.3" font-weight="bold" fill="#222">(log10 copies/ml of supernatant )</text>
<polyline points="1089.3,228.3 1143.3,191.7 1196.7,180.7" fill="none" stroke="#222" stroke-width="1.2"/>
<line x1="1089.3" y1="261.7" x2="1196.7" y2="261.7" stroke="#222" stroke-width="1.2"/>
<g stroke="#222" stroke-width="1" fill="none"><path d="M1089.3,222.7V234 M1086,222.7h6.6 M1086,234h6.6 M1143.3,186V197.3 M1140,186h6.6 M1140,197.3h6.6 M1196.7,169.3V191.7 M1193.4,169.3h6.6 M1193.4,191.7h6.6"/></g>
<g fill="#111"><circle cx="1089.3" cy="228.3" r="2.5"/><circle cx="1143.3" cy="191.7" r="2.5"/><circle cx="1196.7" cy="180.7" r="2.5"/><rect x="1086.8" y="259.2" width="5" height="5"/><rect x="1140.8" y="259.2" width="5" height="5"/><rect x="1194.2" y="259.2" width="5" height="5"/></g>
<line x1="1143.3" y1="217.7" x2="1158.3" y2="217.7" stroke="#222" stroke-width="1.2"/><circle cx="1150.8" cy="217.7" r="2.3" fill="#111"/>
<line x1="1143.3" y1="232.3" x2="1158.3" y2="232.3" stroke="#222" stroke-width="1.2"/><rect x="1148.3" y="229.8" width="5" height="5" fill="#111"/>
<text x="1161" y="220.5" class="lg" font-size="7.5">PEDV</text><text x="1161" y="235.3" class="lg" font-size="7.5">Control</text>

<!-- ===== Panel F ===== -->
<text x="426" y="327" class="lt" font-size="24">F</text>
<g fill="#0a0a0a"><rect x="486" y="374.7" width="17" height="70.3"/><rect x="553" y="401.7" width="12" height="43.3"/><rect x="613" y="426.7" width="12" height="18.3"/></g>
<g fill="#a0a0a4"><rect x="509.3" y="367.3" width="16.7" height="77.7"/><rect x="570" y="367.3" width="16.7" height="77.7"/><rect x="630.7" y="367.3" width="17" height="77.7"/></g>
<g stroke="#222" stroke-width="1" fill="none"><path d="M494.5,374.7V343.3 M490,343.3h9 M517.7,367.3V356 M513.2,356h9 M559,401.7V396.7 M555,396.7h8 M578.3,367.3V356 M573.8,356h9 M619,426.7V424.3 M615,424.3h8"/></g>
<g stroke="#333" stroke-width="1.2" fill="none"><path d="M480,329V445 M478,445H649 M477,329h3 M477,367.3h3 M477,406h3 M477,445h3"/></g>
<g stroke="#222" stroke-width="1" fill="none"><path d="M554.3,345V340H579V345 M615.7,345V340H640.7V345"/></g>
<g class="st" text-anchor="middle"><text x="566.7" y="339">**</text><text x="628.2" y="339">***</text></g>
<g class="tk" text-anchor="end"><text x="475" y="331">1.5</text><text x="475" y="369.3">1.0</text><text x="475" y="408">0.5</text><text x="475" y="447">0.0</text></g>
<g class="ct" text-anchor="middle"><text x="506" y="460">12h</text><text x="568" y="460">24h</text><text x="630" y="460">48h</text></g>
<text x="569" y="477" text-anchor="middle" class="ax">Hours past infection</text>
<text transform="translate(459,389) rotate(-90)" text-anchor="middle" class="yl">Relative MUC2 mRNA level (2<tspan font-size="4" dy="-2.5">-ΔΔCt</tspan><tspan dy="2.5">)</tspan></text>
<rect x="665" y="330.5" width="12" height="6.5" fill="#0a0a0a"/><text x="684" y="337" class="lg">PEDV</text>
<rect x="665" y="348" width="12" height="6.5" fill="#a0a0a4"/><text x="684" y="354.5" class="lg">Control</text>

<!-- ===== Panel G ===== -->
<text x="701" y="327" class="lt" font-size="27">G</text>
<g fill="#0a0a0a"><rect x="764" y="374.7" width="17" height="73.6"/><rect x="824" y="426.7" width="16.7" height="21.6"/><rect x="885" y="441.7" width="15.7" height="6.6"/></g>
<g fill="#a0a0a4"><rect x="786.7" y="371" width="16.6" height="77.3"/><rect x="846.7" y="371" width="16.6" height="77.3"/><rect x="906.7" y="371" width="16.6" height="77.3"/></g>
<g stroke="#222" stroke-width="1" fill="none"><path d="M772.5,374.7V359 M768,359h9 M795,371V360 M790.5,360h9 M832.3,426.7V424.3 M828,424.3h8.6 M855,371V360 M850.5,360h9 M892.8,441.7V439.3 M888.8,439.3h8"/></g>
<g stroke="#333" stroke-width="1.2" fill="none"><path d="M756.7,332.7V448.3 M755,448.3H932 M753.7,332.7h3 M753.7,371h3 M753.7,409.3h3 M753.7,448.3h3"/></g>
<g stroke="#222" stroke-width="1" fill="none"><path d="M831,347.7V342.7H855V347.7 M892.3,347.7V342.7H917.3V347.7"/></g>
<g class="st" text-anchor="middle"><text x="843" y="341.5">**</text><text x="904.8" y="341.5">***</text></g>
<g class="tk" text-anchor="end"><text x="752" y="334.7">1.5</text><text x="752" y="373">1.0</text><text x="752" y="411.3">0.5</text><text x="752" y="450.3">0.0</text></g>
<g class="ct" text-anchor="middle"><text x="783.5" y="463">12h</text><text x="843.5" y="463">24h</text><text x="904" y="463">48h</text></g>
<text x="846" y="477" text-anchor="middle" class="ax">Hours past infection</text>
<text transform="translate(750,390) rotate(-90)" text-anchor="middle" class="yl">Relative FCGBP mRNA level (2<tspan font-size="4" dy="-2.5">-ΔΔCt</tspan><tspan dy="2.5">)</tspan></text>
<rect x="940" y="337" width="15" height="6" fill="#0a0a0a"/><text x="960" y="343" class="lg">PEDV</text>
<rect x="940" y="353" width="15" height="6" fill="#a0a0a4"/><text x="960" y="359" class="lg">Control</text>

<!-- ===== Panel H ===== -->
<text x="424" y="487" class="lt" font-size="24">H</text>
<g fill="#0a0a0a"><rect x="483.3" y="569.3" width="16.7" height="43.4"/><rect x="544" y="589" width="16" height="23.7"/><rect x="605" y="602.7" width="15.7" height="10"/></g>
<g fill="#a0a0a4"><rect x="506" y="535" width="15.7" height="77.7"/><rect x="566.7" y="535" width="16.6" height="77.7"/><rect x="628.3" y="535" width="15.7" height="77.7"/></g>
<g stroke="#222" stroke-width="1" fill="none"><path d="M491.7,569.3V564.3 M487.5,564.3h8.4 M513.8,535V524 M509.5,524h8.6 M552,589V578.3 M547.8,578.3h8.4 M575,535V513.3 M570.7,513.3h8.6 M612.8,602.7V600 M608.8,600h8"/></g>
<g stroke="#333" stroke-width="1.2" fill="none"><path d="M475,496.7V612.7 M473,612.7H651 M472,496.7h3 M472,535h3 M472,574h3 M472,612.7h3"/></g>
<g stroke="#222" stroke-width="1" fill="none"><path d="M490,510V504.3H515V510 M550,510V504.3H575V510 M612.7,510V504.3H637.3V510"/></g>
<g class="st" text-anchor="middle"><text x="502.5" y="503.5">*</text><text x="562.5" y="503.5">**</text><text x="625" y="503.5">***</text></g>
<g class="tk" text-anchor="end"><text x="470" y="498.7">1.5</text><text x="470" y="537">1.0</text><text x="470" y="576">0.5</text><text x="470" y="614.7">0.0</text></g>
<g class="ct" text-anchor="middle"><text x="502.5" y="627">12h</text><text x="563.5" y="627">24h</text><text x="624.5" y="627">48h</text></g>
<text x="565.5" y="645" text-anchor="middle" class="ax">Hours past infection</text>
<text transform="translate(456.5,555) rotate(-90)" text-anchor="middle" class="yl">Relative CLCA1 mRNA level (2<tspan font-size="4" dy="-2.5">-ΔΔCt</tspan><tspan dy="2.5">)</tspan></text>
<rect x="662.3" y="501.7" width="15" height="5" fill="#0a0a0a"/><text x="682" y="506.5" class="lg">PEDV</text>
<rect x="662.3" y="517.3" width="15" height="5" fill="#a0a0a4"/><text x="682" y="522.3" class="lg">Control</text>

<!-- ===== Panel I ===== -->
<rect x="714.5" y="467" width="3.2" height="18" fill="#111"/>
<g fill="#0a0a0a"><rect x="765" y="546" width="17.7" height="75"/><rect x="827.3" y="561.7" width="16.7" height="59.3"/><rect x="889.3" y="585.7" width="16.7" height="35.3"/></g>
<g fill="#a0a0a4"><rect x="787.7" y="542.3" width="17.3" height="78.7"/><rect x="850" y="542.3" width="16.7" height="78.7"/><rect x="911.7" y="542.3" width="16.6" height="78.7"/></g>
<g stroke="#222" stroke-width="1" fill="none"><path d="M773.8,546V530 M769.3,530h9 M796.3,542.3V520 M791.8,520h9 M835.7,561.7V556.7 M831.3,556.7h8.8 M858.3,542.3V531.7 M853.8,531.7h9 M897.7,585.7V580 M893.3,580h8.8 M920,542.3V531.7 M915.5,531.7h9"/></g>
<g stroke="#333" stroke-width="1.2" fill="none"><path d="M757.3,503.3V621 M755,621H936.7 M754.3,503.3h3 M754.3,542.3h3 M754.3,581.7h3 M754.3,621h3"/></g>
<g stroke="#222" stroke-width="1" fill="none"><path d="M896.7,521V516H921V521"/></g>
<text x="908.8" y="515" text-anchor="middle" class="st">*</text>
<g class="tk" text-anchor="end"><text x="752.5" y="505.3">1.5</text><text x="752.5" y="544.3">1.0</text><text x="752.5" y="583.7">0.5</text><text x="752.5" y="623">0.0</text></g>
<g class="ct" text-anchor="middle"><text x="785" y="636">12h</text><text x="847" y="636">24h</text><text x="909" y="636">48h</text></g>
<text x="849" y="652.5" text-anchor="middle" class="ax">Hours past infection</text>
<text transform="translate(738,562) rotate(-90)" text-anchor="middle" class="yl">Relative AGR2 mRNA level (2<tspan font-size="4" dy="-2.5">-ΔΔCt</tspan><tspan dy="2.5">)</tspan></text>
<rect x="946.7" y="508.3" width="15" height="5" fill="#0a0a0a"/><text x="967" y="513.5" class="lg">PEDV</text>
<rect x="946.7" y="523.3" width="15" height="5" fill="#a0a0a4"/><text x="967" y="529" class="lg">Control</text>

<!-- ===== Panel J ===== -->
<text x="991" y="330" class="lt" font-size="28">J</text>
<g class="bl" text-anchor="middle"><text x="1087" y="346">12hpi</text><text x="1135" y="346">24hpi</text><text x="1184" y="346">48hpi</text></g>
<g stroke="#222" stroke-width="1"><line x1="1072" y1="349.3" x2="1102" y2="349.3"/><line x1="1120" y1="349.3" x2="1150" y2="349.3"/><line x1="1168" y1="349.3" x2="1199" y2="349.3"/></g>
<text x="1025" y="361" class="bl">PEDV</text>
<g class="bl" text-anchor="middle"><text x="1077.7" y="361">+</text><text x="1100" y="361">-</text><text x="1126" y="361">+</text><text x="1148" y="361">-</text><text x="1174" y="361">+</text><text x="1196.7" y="361">-</text></g>
<rect x="1063" y="368" width="145" height="29" fill="#fff" stroke="#555" stroke-width="1"/>
<rect x="1063" y="411" width="145" height="26" fill="#fff" stroke="#555" stroke-width="1"/>
<rect x="1063" y="443" width="145" height="24" fill="#fff" stroke="#555" stroke-width="1"/>
<g filter="url(#bs)">
<ellipse cx="1075" cy="386" rx="11" ry="3" fill="#111"/>
<ellipse cx="1100" cy="386" rx="12" ry="3.6" fill="#0a0a0a"/>
<ellipse cx="1124" cy="386" rx="9" ry="2" fill="#222"/>
<ellipse cx="1148" cy="385.5" rx="11" ry="3" fill="#111"/>
<ellipse cx="1174" cy="386" rx="8" ry="1.6" fill="#b0b0b0"/>
<ellipse cx="1197" cy="385" rx="10" ry="2.8" fill="#111"/>
<ellipse cx="1106" cy="426" rx="4" ry="1.2" fill="#c0c0c0"/>
<ellipse cx="1126.5" cy="426" rx="9" ry="3.8" fill="#0a0a0a"/>
<ellipse cx="1173.5" cy="425.5" rx="10" ry="5.5" fill="#050505"/>
<ellipse cx="1076" cy="455" rx="10" ry="2" fill="#222"/>
<ellipse cx="1100" cy="455" rx="10" ry="2" fill="#333"/>
<ellipse cx="1125" cy="455" rx="10" ry="2" fill="#222"/>
<ellipse cx="1148" cy="455" rx="10" ry="2" fill="#333"/>
<ellipse cx="1174" cy="455" rx="10" ry="2" fill="#222"/>
<ellipse cx="1197" cy="455" rx="9" ry="2" fill="#222"/>
</g>
<g class="bl" text-anchor="end"><text x="1059" y="387.5">MUC2</text><text x="1060" y="428.5">PEDV-N</text><text x="1060" y="458.5">β-actin</text></g>
<g stroke="#666" stroke-width="0.7" fill="none"><path d="M1124,397.7V401.5H1152V397.7 M1176,397.7V401.5H1203V397.7"/></g>
<g font-size="5.4" fill="#444" text-anchor="middle"><text x="1139" y="408.3">P=0.013</text><text x="1189.5" y="408.3">P=0.001</text></g>

<!-- ===== Panel K ===== -->
<text x="988" y="487" class="lt" font-size="27">K</text>
<g fill="#0a0a0a"><rect x="1042.7" y="587.3" width="15.6" height="36"/><rect x="1101.7" y="589.3" width="15" height="34"/><rect x="1159.3" y="589.3" width="15.7" height="34"/></g>
<g fill="#a0a0a4"><rect x="1064.3" y="589.3" width="15.7" height="34"/><rect x="1122.7" y="556" width="15.6" height="67.3"/><rect x="1181" y="536.7" width="15.7" height="86.6"/></g>
<g stroke="#222" stroke-width="1" fill="none"><path d="M1050.5,587.3V585 M1046.5,585h8 M1072.2,589.3V584.3 M1068.2,584.3h8 M1109.2,589.3V579 M1105.2,579h8 M1130.5,556V545.7 M1126.5,545.7h8 M1167.2,589.3V584.3 M1163.2,584.3h8 M1188.8,536.7V532.3 M1184.8,532.3h8"/></g>
<g stroke="#333" stroke-width="1.2" fill="none"><path d="M1034.3,512.3V623.3 M1032,623.3H1203 M1031.3,512.3h3 M1031.3,549.3h3 M1031.3,586h3 M1031.3,623.3h3"/></g>
<g stroke="#222" stroke-width="1" fill="none"><path d="M1107.3,527.3V521.7H1130.7V527.3 M1166.7,527.3V521.7H1190V527.3"/></g>
<g class="st" text-anchor="middle"><text x="1119" y="520.5">*</text><text x="1178.3" y="520.5">**</text></g>
<g class="tk" text-anchor="end"><text x="1030" y="514.3">150</text><text x="1030" y="551.3">100</text><text x="1030" y="588">50</text><text x="1030" y="625.3">0</text></g>
<g class="ct" text-anchor="middle"><text x="1061.3" y="636">12h</text><text x="1120.2" y="636">24h</text><text x="1178" y="636">48h</text></g>
<text x="1121.7" y="653" text-anchor="middle" class="ax">Hours past infection</text>
<text transform="translate(1014,565) rotate(-90)" text-anchor="middle" font-size="7.6" font-weight="bold" fill="#333">MUC2 in supernatant (pg/ml)</text>
<rect x="1213.3" y="516.7" width="15" height="5.6" fill="#0a0a0a"/><text x="1233" y="522.3" class="lg">PEDV</text>
<rect x="1213.3" y="531" width="15" height="5.6" fill="#a0a0a4"/><text x="1233" y="537" class="lg">Control</text>
</svg>
</body></html>
